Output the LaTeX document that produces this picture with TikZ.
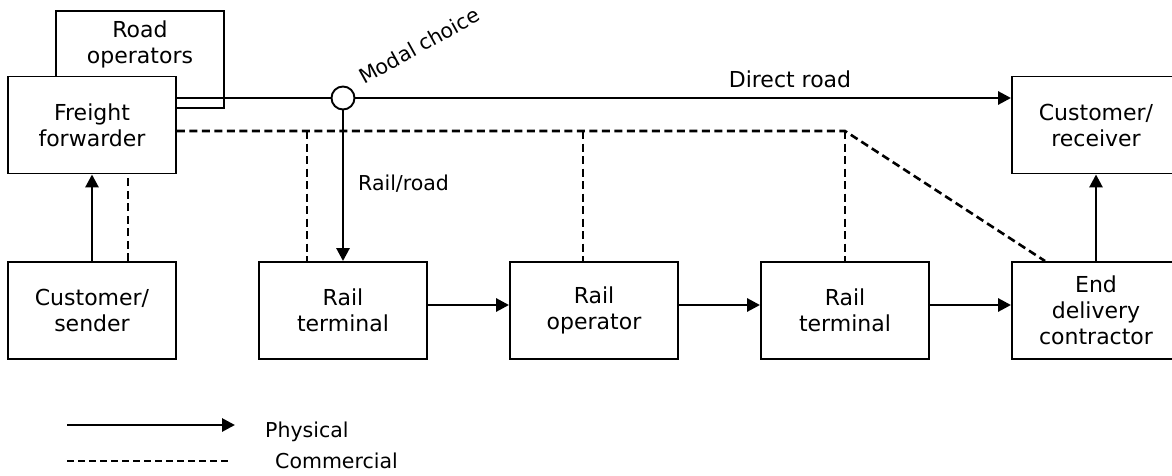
\documentclass[tikz,border=0pt]{standalone}
\usepackage{fontspec}
\setmainfont{DejaVu Sans}
\usetikzlibrary{arrows.meta,calc}
\tikzset{
  box/.style={draw, line width=1.9pt, fill=white, minimum width=168pt,
    minimum height=97pt, align=center, inner sep=0pt,
    font=\fontsize{22}{26}\selectfont},
  choice/.style={draw, circle, line width=1.9pt, fill=white, minimum size=23pt, inner sep=0pt},
  phys/.style={line width=2.8pt},
  physarrow/.style={phys, -{Triangle[length=13pt,width=13pt]}},
  comm/.style={line width=2.6pt, dash pattern=on 8pt off 4.5pt},
  legendcomm/.style={line width=2pt, dash pattern=on 7pt off 4pt},
  lbl/.style={inner sep=0pt, font=\fontsize{22}{26}\selectfont},
  legendlbl/.style={inner sep=0pt, font=\fontsize{20.5}{24}\selectfont}
}
\begin{document}
\begin{tikzpicture}[x=1pt,y=-1pt]
\useasboundingbox (0,0) rectangle (1172,476);
\clip (0,0) rectangle (1172,476);

% actors (the road operators' text sits in the part left uncovered)
\node[box, text depth=35pt] (road) at (140,59.5) {Road\\operators};
\node[box] (ff)   at (92,125)   {Freight\\forwarder};
\node[box] (cr)   at (1096,125) {Customer/\\receiver};
\node[box] (cs)   at (92,310.5)  {Customer/\\sender};
\node[box] (rt1)  at (343,310.5) {Rail\\terminal};
\node[box] (ro)   at (594,310.5) {Rail\\operator};
\node[box] (rt2)  at (845,310.5) {Rail\\terminal};
\node[box] (ed)   at (1096,310.5) {End\\delivery\\contractor};
\node[choice] (mc) at (343,98) {};

% labels
\node[legendlbl, anchor=base west, rotate=29] (mclabel) at (364,85) {Modal choice};
\node[lbl, anchor=base] (directlabel) at (790,88) {Direct road};
\node[legendlbl, anchor=base west] (raillabel) at (358,190) {Rail/road};

% physical flows
\draw[phys] (ff.east |- mc.west) -- (mc.west);
\draw[physarrow] (mc.east) -- (cr.west |- mc.east);
\draw[physarrow] (mc.south) -- (rt1.north);
\draw[physarrow] (cs.north) -- (ff.south);
\draw[physarrow] ([yshift=5.5pt]rt1.east) -- ([yshift=5.5pt]ro.west);
\draw[physarrow] ([yshift=5.5pt]ro.east) -- ([yshift=5.5pt]rt2.west);
\draw[physarrow] ([yshift=5.5pt]rt2.east) -- ([yshift=5.5pt]ed.west);
\draw[physarrow] (ed.north) -- (cr.south);

% commercial relations
\coordinate (d1) at (307,131);
\coordinate (d2) at (583,131);
\coordinate (dcorner) at (845,131);
\coordinate (dend) at ($(ed.north west)!0.2!(ed.north east)$);
\draw[comm] (ff.east |- dcorner) -- (dcorner) -- (dend);
\draw[comm] (d1) -- (d1 |- rt1.north);
\draw[comm] (d2) -- (d2 |- ro.north);
\draw[comm] (dcorner) -- (dcorner |- rt2.north);
\draw[comm] ([xshift=36pt]cs.north) -- ([xshift=36pt]ff.south);

% legend
\coordinate (pa) at (67,425);
\coordinate (pb) at (235,425);
\coordinate (ca) at (67,461);
\coordinate (cb) at (230,461);
\draw[physarrow] (pa) -- (pb);
\draw[legendcomm] (ca) -- (cb);
\node[legendlbl, anchor=base west] (physlabel) at (265,437) {Physical};
\node[legendlbl, anchor=base west] (commlabel) at (275,468) {Commercial};
\end{tikzpicture}
\end{document}
